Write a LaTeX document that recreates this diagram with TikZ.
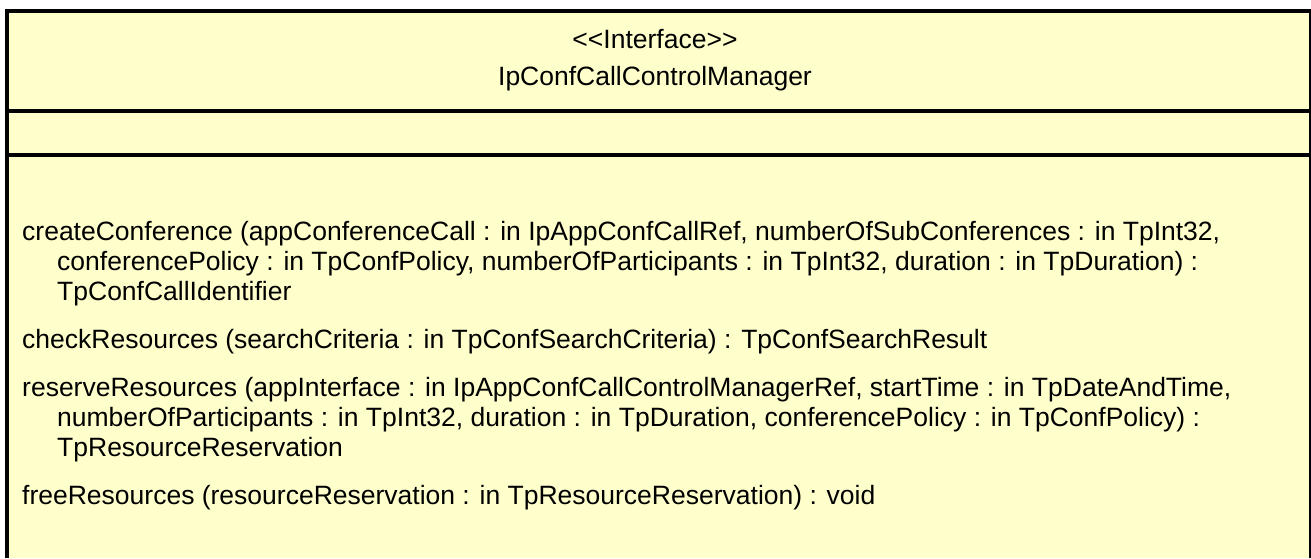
\documentclass[tikz,border=0pt]{standalone}
\usepackage{fontspec}
\setmainfont{Liberation Sans}
\usetikzlibrary{positioning}
\definecolor{umlfill}{HTML}{FFFFCC}

\begin{document}
\begin{tikzpicture}[
  x=1pt, y=-1pt,
  title/.style={anchor=base, inner sep=0pt, font=\fontsize{26.5}{30}\selectfont},
  oper/.style={anchor=base west, inner sep=0pt, font=\fontsize{26.5}{30}\selectfont},
  sep/.style={line width=4pt},
]
\useasboundingbox (0,0) rectangle (1311,558);

% === class box ===
\fill[umlfill] (7,11) rectangle (1310,558);
\draw[sep] (5,11) -- (1311,11);
\draw[sep] (7,9) -- (7,558);
\draw[line width=1.2pt] (1310,11) -- (1310,558);
\draw[sep] (5,111) -- (1311,111);
\draw[sep] (5,155) -- (1311,155);

% === name compartment ===
\node[title] (stereo) at (655,48) {<{}<Interface>{}>};
\node[title] (cname) at (655,85) {IpConfCallControlManager};

% === operations ===
\node[oper] (create1) at (22,240) {createConference (appConferenceCall : in IpAppConfCallRef, numberOfSubConferences : in TpInt32,};
\node[oper] (create2) at (57,270) {conferencePolicy : in TpConfPolicy, numberOfParticipants : in TpInt32, duration : in TpDuration) :};
\node[oper] (create3) at (57,300) {TpConfCallIdentifier};

\node[oper] (check1) at (22,348) {checkResources (searchCriteria : in TpConfSearchCriteria) : TpConfSearchResult};

\node[oper] (reserve1) at (22,396) {reserveResources (appInterface : in IpAppConfCallControlManagerRef, startTime : in TpDateAndTime,};
\node[oper] (reserve2) at (57,426) {numberOfParticipants : in TpInt32, duration : in TpDuration, conferencePolicy : in TpConfPolicy) :};
\node[oper] (reserve3) at (57,456) {TpResourceReservation};

\node[oper] (free1) at (22,504) {freeResources (resourceReservation : in TpResourceReservation) : void};

\end{tikzpicture}
\end{document}
